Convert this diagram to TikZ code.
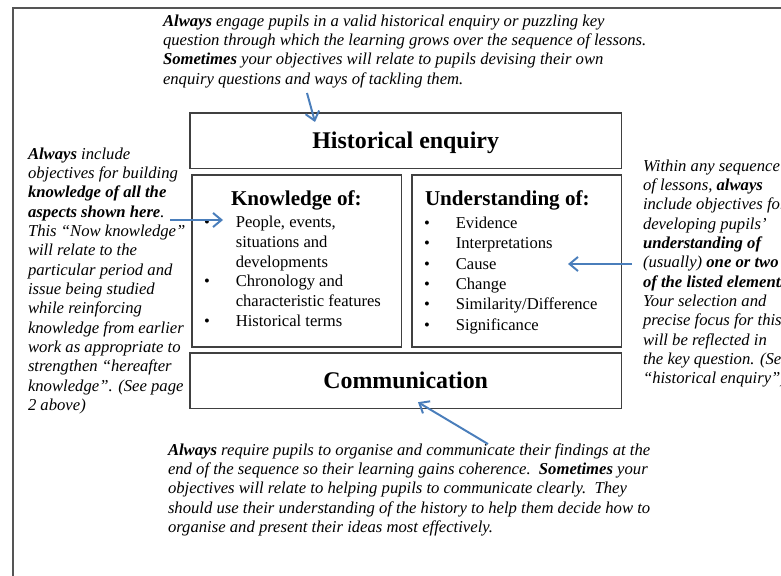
\documentclass[tikz,border=0pt]{standalone}
\usepackage{fontspec}
\setmainfont{Liberation Serif}
\usepackage{xcolor}
\usepackage{tikz}
\usetikzlibrary{arrows.meta,positioning,calc}

\definecolor{arrowblue}{HTML}{4A7EBB}
\definecolor{framegray}{HTML}{555555}

\begin{document}
\begin{tikzpicture}[
    x=0.025cm, y=-0.025cm,
    every node/.style={inner sep=0pt, outer sep=0pt},
    box/.style={
        draw=black!75,
        line width=0.9pt,
        rectangle,
        anchor=north west,
        align=center,
        font=\fontsize{17}{20}\selectfont\bfseries
    },
    heading/.style={
        anchor=base west,
        font=\fontsize{15}{18}\selectfont\bfseries
    },
    note/.style={
        anchor=north west,
        align=left,
        font=\fontsize{11.85}{13.75}\selectfont\itshape
    },
    pointer/.style={
        draw=arrowblue,
        line width=1.4pt,
        -{Straight Barb[length=6pt,width=10pt]}
    }
]

% ==========================================================
% PAGE FRAME
% ==========================================================
\clip (0,0) rectangle (781,576);
\draw[framegray, line width=1.1pt] (13,600) -- (13,8) -- (800,8);

% ==========================================================
% BOXES
% ==========================================================
\node[box, text depth=1pt, minimum width=10.78cm, minimum height=1.38cm] (enquiry) at (190,113) {Historical enquiry};
\node[box, minimum width=5.23cm, minimum height=4.3cm] (knowledge) at (192,175) {};
\node[box, minimum width=5.23cm, minimum height=4.3cm] (understanding) at (412,175) {};
\node[box, minimum width=10.78cm, minimum height=1.38cm] (communication) at (190,353) {Communication};

% headings and lists inside the middle boxes
\node[heading] (knowhead) at (231,206) {Knowledge of:};
\node[heading] (underhead) at (425,206) {Understanding of:};

\node[anchor=north west, font=\fontsize{11.8}{14}\selectfont] (knowlist) at (204,214) {%
\begin{tabular}{@{}l@{\hspace{18.5pt}}l@{}}
\textbullet & People, events,\\
 & situations and\\
 & developments\\
\textbullet & Chronology and\\
 & characteristic features\\
\textbullet & Historical terms
\end{tabular}};

\node[anchor=north west, font=\fontsize{11.8}{14.5}\selectfont] (underlist) at (424,214) {%
\begin{tabular}{@{}l@{\hspace{18.5pt}}l@{}}
\textbullet & Evidence\\
\textbullet & Interpretations\\
\textbullet & Cause\\
\textbullet & Change\\
\textbullet & Similarity/Difference\\
\textbullet & Significance
\end{tabular}};

% ==========================================================
% NOTES
% ==========================================================
\node[note] (topnote) at (163,14.5) {\textbf{Always} engage pupils in a valid historical enquiry or puzzling key\\
question through which the learning grows over the sequence of lessons.\\
\textbf{Sometimes} your objectives will relate to pupils devising their own\\
enquiry questions and ways of tackling them.};

\node[note] (leftnote) at (28,147.5) {\textbf{Always} include\\
objectives for building\\
\textbf{knowledge of all the}\\
\textbf{aspects shown here}.\\
This “Now knowledge”\\
will relate to the\\
particular period and\\
issue being studied\\
while reinforcing\\
knowledge from earlier\\
work as appropriate to\\
strengthen “hereafter\\
knowledge”. (See page\\
2 above)};

\node[note] (rightnote) at (643,159.5) {Within any sequence\\
of lessons, \textbf{always}\\
include objectives for\\
developing pupils’\\
\textbf{understanding of}\\
(usually) \textbf{one or two}\\
\textbf{of the listed elements.}\\
Your selection and\\
precise focus for this\\
will be reflected in\\
the key question. (See\\
“historical enquiry”).};

\node[note] (bottomnote) at (168,443.5) {\textbf{Always} require pupils to organise and communicate their findings at the\\
end of the sequence so their learning gains coherence.\ \ \textbf{Sometimes} your\\
objectives will relate to helping pupils to communicate clearly.\ \ They\\
should use their understanding of the history to help them decide how to\\
organise and present their ideas most effectively.};

% ==========================================================
% CONNECTIONS
% ==========================================================
\coordinate (toptail) at (307,93);
\coordinate (lefttail) at (170,220);
\coordinate (righttail) at (632,264);
\coordinate (bottomtail) at (488,444);

\draw[pointer] (toptail) -- ($(enquiry.north west)+(125,9)$);
\draw[pointer] (lefttail) -- ($(knowledge.north west)+(31,45)$);
\draw[pointer] (righttail) -- ($(understanding.north west)+(156,89)$);
\draw[pointer] (bottomtail) -- ($(communication.south west)+(228,-6)$);

\end{tikzpicture}
\end{document}
